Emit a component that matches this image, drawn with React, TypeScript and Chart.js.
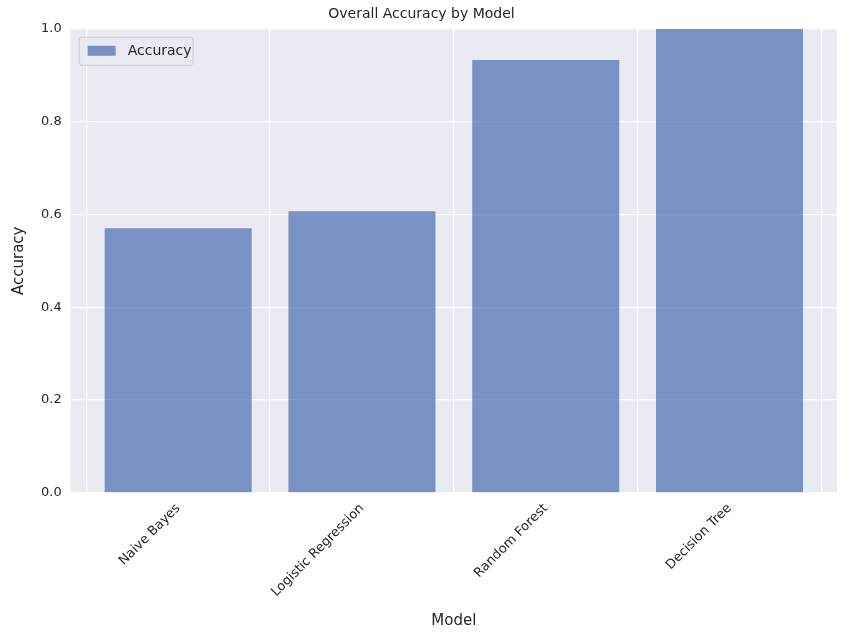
import { useEffect, useRef } from "react"
import { Chart, registerables, type ChartConfiguration, type Plugin } from "chart.js"

Chart.register(...registerables)

const models = ["Naive Bayes", "Logistic Regression", "Random Forest", "Decision Tree"]
const accuracy = [0.57, 0.607, 0.933, 1.0]
const seriesName = "Accuracy"

const FONT = "'DejaVu Sans', sans-serif"
const TEXT = "#262626"
const BAR = "rgba(76, 114, 176, 0.72)"

const bgPlugin: Plugin = {
  id: "plotBg",
  beforeDraw(chart) {
    const { ctx, chartArea: a } = chart
    ctx.save()
    ctx.fillStyle = "#ffffff"
    ctx.fillRect(0, 0, chart.width, chart.height)
    ctx.fillStyle = "#EAEAF2"
    ctx.fillRect(a.left, a.top, a.right - a.left, a.bottom - a.top)
    ctx.restore()
  },
  afterDraw(chart) {
    // matplotlib-style legend in the upper-left corner of the axes
    const { ctx, chartArea: a } = chart
    const x = a.left + 8
    const y = a.top + 8
    ctx.save()
    ctx.font = `14px ${FONT}`
    const w = 28 + 12 + ctx.measureText(seriesName).width + 10
    const h = 28
    ctx.fillStyle = "rgba(234,234,242,0.8)"
    ctx.strokeStyle = "#cccccc"
    ctx.lineWidth = 1
    ctx.beginPath()
    ctx.roundRect(x + 0.5, y + 0.5, w, h, 3)
    ctx.fill()
    ctx.stroke()
    ctx.fillStyle = BAR
    ctx.fillRect(x + 9, y + 9, 28, 10)
    ctx.fillStyle = TEXT
    ctx.textBaseline = "middle"
    ctx.fillText(seriesName, x + 49, y + h / 2 + 1)
    ctx.restore()
  },
}

export default function App() {
  const ref = useRef<HTMLCanvasElement>(null)

  useEffect(() => {
    if (!ref.current) return
    const config: ChartConfiguration<"bar"> = {
      type: "bar",
      data: {
        datasets: [
          {
            label: seriesName,
            data: models.map((_, i) => ({ x: i, y: accuracy[i] })) as any,
            backgroundColor: BAR,
            borderWidth: 0,
            categoryPercentage: 1,
            barPercentage: 0.8,
          },
        ],
      },
      options: {
        animation: false,
        responsive: false,
        layout: { padding: { top: 6, right: 13, left: 6, bottom: 6 } },
        plugins: {
          legend: { display: false },
          tooltip: { enabled: false },
          title: {
            display: true,
            text: "Overall Accuracy by Model",
            color: TEXT,
            font: { family: FONT, size: 14, weight: "normal" },
            padding: { top: 0, bottom: 6 },
          },
        },
        scales: {
          x: {
            type: "linear",
            min: -0.585,
            max: 3.585,
            offset: false,
            border: { display: false },
            grid: { color: "#ffffff", lineWidth: 1.2, drawTicks: false },
            afterBuildTicks: (axis) => {
              axis.ticks = models.map((_, i) => ({ value: i }))
            },
            ticks: {
              color: TEXT,
              font: { family: FONT, size: 13 },
              maxRotation: 45,
              minRotation: 45,
              padding: 8,
              callback: (v) => models[Number(v)] ?? "",
            },
            title: {
              display: true,
              text: "Model",
              color: TEXT,
              font: { family: FONT, size: 15 },
              padding: { top: 4 },
            },
          },
          y: {
            min: 0,
            max: 1,
            border: { display: false },
            grid: { color: "#ffffff", lineWidth: 1.2, drawTicks: false },
            ticks: {
              stepSize: 0.2,
              color: TEXT,
              font: { family: FONT, size: 13 },
              padding: 9,
              callback: (v) => Number(v).toFixed(1),
            },
            title: {
              display: true,
              text: "Accuracy",
              color: TEXT,
              font: { family: FONT, size: 15 },
              padding: { bottom: 4 },
            },
          },
        },
      },
      plugins: [bgPlugin],
    }
    const chart = new Chart(ref.current, config)
    return () => chart.destroy()
  }, [])

  return (
    <div style={{ position: "fixed", left: 0, top: 0, width: 850, height: 640 }}>
      <canvas ref={ref} width={850} height={640} />
    </div>
  )
}
